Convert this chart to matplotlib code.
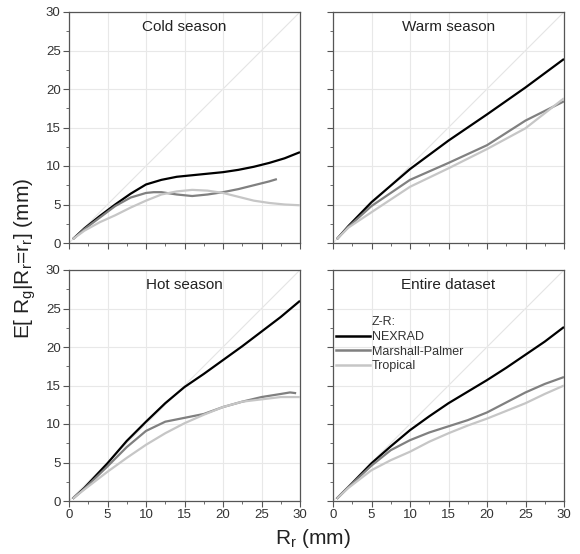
import numpy as np
import matplotlib
matplotlib.use("Agg")
import matplotlib.pyplot as plt
from matplotlib.ticker import MultipleLocator
from matplotlib.lines import Line2D

plt.rcParams["font.family"] = ["Liberation Sans", "DejaVu Sans"]
plt.rcParams["mathtext.default"] = "regular"

# ---- data ----
cold_x_nex = [0.5, 2, 4, 6, 8, 10, 12, 14, 16, 18, 20, 22, 24, 26, 28, 30]
cold_nex   = [0.5, 1.9, 3.5, 5.0, 6.4, 7.6, 8.2, 8.6, 8.8, 9.0, 9.2, 9.5, 9.9, 10.4, 11.0, 11.8]
cold_x_mp  = [0.5, 2, 4, 6, 8, 10, 11, 12, 14, 16, 18, 20, 22, 24, 26, 27]
cold_mp    = [0.5, 1.8, 3.3, 4.8, 5.9, 6.5, 6.6, 6.6, 6.3, 6.1, 6.3, 6.6, 7.0, 7.5, 8.0, 8.3]
cold_x_tr  = [0.5, 2, 4, 6, 8, 10, 12, 14, 16, 18, 20, 22, 24, 26, 28, 30]
cold_tr    = [0.5, 1.6, 2.7, 3.6, 4.6, 5.5, 6.3, 6.7, 6.9, 6.8, 6.5, 6.0, 5.5, 5.2, 5.0, 4.9]

warm_x     = [0.5, 2, 5, 10, 15, 20, 25, 30]
warm_nex   = [0.5, 2.2, 5.3, 9.6, 13.3, 16.7, 20.2, 23.9]
warm_mp    = [0.5, 2.1, 4.8, 8.2, 10.4, 12.7, 15.9, 18.4]
warm_tr    = [0.5, 2.0, 4.0, 7.3, 9.7, 12.2, 14.9, 18.8]

hot_x_nex  = [0.5, 2, 5, 7.5, 10, 12.5, 15, 17.5, 20, 22.5, 25, 27.5, 30]
hot_nex    = [0.3, 1.7, 4.9, 7.8, 10.3, 12.7, 14.8, 16.5, 18.3, 20.1, 22.0, 23.9, 26.0]
hot_x_mp   = [0.5, 2, 5, 7.5, 10, 12.5, 15, 17.5, 20, 22.5, 25, 27.5, 28.7, 29.5]
hot_mp     = [0.3, 1.6, 4.5, 7.0, 9.1, 10.3, 10.8, 11.3, 12.2, 12.9, 13.5, 13.9, 14.1, 14.0]
hot_x_tr   = [0.5, 2, 5, 7.5, 10, 12.5, 15, 17.5, 20, 22.5, 25, 27.5, 30]
hot_tr     = [0.3, 1.5, 3.8, 5.6, 7.3, 8.8, 10.1, 11.2, 12.2, 12.9, 13.2, 13.5, 13.5]

all_x      = [0.5, 2, 5, 7.5, 10, 12.5, 15, 17.5, 20, 22.5, 25, 27.5, 30]
all_nex    = [0.3, 1.8, 4.9, 7.1, 9.2, 11.0, 12.7, 14.2, 15.7, 17.3, 19.0, 20.7, 22.6]
all_mp     = [0.3, 1.8, 4.6, 6.6, 7.9, 8.9, 9.7, 10.5, 11.5, 12.8, 14.1, 15.2, 16.1]
all_tr     = [0.3, 1.7, 4.0, 5.3, 6.4, 7.7, 8.8, 9.8, 10.7, 11.7, 12.7, 13.9, 15.0]

titles = ["Cold season", "Warm season", "Hot season", "Entire dataset"]
series_names = ["NEXRAD", "Marshall-Palmer", "Tropical"]
legend_title = "Z-R:"
colors = ["#000000", "#808080", "#c6c6c6"]

panels = [
    [(cold_x_nex, cold_nex), (cold_x_mp, cold_mp), (cold_x_tr, cold_tr)],
    [(warm_x, warm_nex), (warm_x, warm_mp), (warm_x, warm_tr)],
    [(hot_x_nex, hot_nex), (hot_x_mp, hot_mp), (hot_x_tr, hot_tr)],
    [(all_x, all_nex), (all_x, all_mp), (all_x, all_tr)],
]

W, H = 580, 554
fig = plt.figure(figsize=(W / 100, H / 100), dpi=100)

lefts = [69, 333]
tops = [12, 270]
aw, ah = 231, 231

axes = []
for i in range(4):
    r, c = divmod(i, 2)
    l = lefts[c] / W
    b = 1 - (tops[r] + ah) / H
    ax = fig.add_axes([l, b, aw / W, ah / H])
    axes.append(ax)
    ax.set_xlim(0, 30)
    ax.set_ylim(0, 30)
    ax.xaxis.set_major_locator(MultipleLocator(5))
    ax.yaxis.set_major_locator(MultipleLocator(5))
    ax.xaxis.set_minor_locator(MultipleLocator(2.5))
    ax.yaxis.set_minor_locator(MultipleLocator(2.5))
    ax.grid(True, which="major", color="#e8e8e8", lw=0.8, zorder=0)
    ax.plot([0, 30], [0, 30], color="#e4e4e4", lw=0.8, zorder=1)
    handles = []
    for (xs, ys), col, name in zip(panels[i], colors, series_names):
        h, = ax.plot(xs, ys, color=col, lw=1.6, label=name, zorder=3,
                     solid_capstyle="butt")
        handles.append(h)
    ax.text(0.5, 0.935, titles[i], transform=ax.transAxes, ha="center", va="center",
            fontsize=11, color="#222222")
    for s in ax.spines.values():
        s.set_color("#555555")
        s.set_linewidth(0.9)
    ax.tick_params(which="major", length=4, color="#555555", labelsize=9.5,
                   labelcolor="#333333", direction="out", pad=2)
    ax.tick_params(which="minor", length=2.5, color="#555555", direction="out")
    if c == 1:
        ax.tick_params(labelleft=False)
    if r == 0:
        ax.tick_params(labelbottom=False)

ax = axes[3]
hs = [Line2D([], [], color="none")] + [Line2D([], [], color=col, lw=1.8) for col in colors]
labs = [legend_title] + series_names
leg = ax.legend(hs, labs, loc="upper left", bbox_to_anchor=(0.015, 0.80),
                frameon=False, fontsize=9, handlelength=2.7,
                handletextpad=0.15, labelspacing=0.22, borderaxespad=0, borderpad=0)
for t in leg.get_texts():
    t.set_color("#333333")

fig.text(25 / W, 1 - 258 / H, r"E[ R$_g$|R$_r$=r$_r$] (mm)", rotation=90,
         ha="center", va="center", fontsize=15, color="#222222")
fig.text(313 / W, 1 - 539 / H, r"R$_r$ (mm)", ha="center", va="center",
         fontsize=15, color="#222222")

fig.savefig("out.png", dpi=100)
